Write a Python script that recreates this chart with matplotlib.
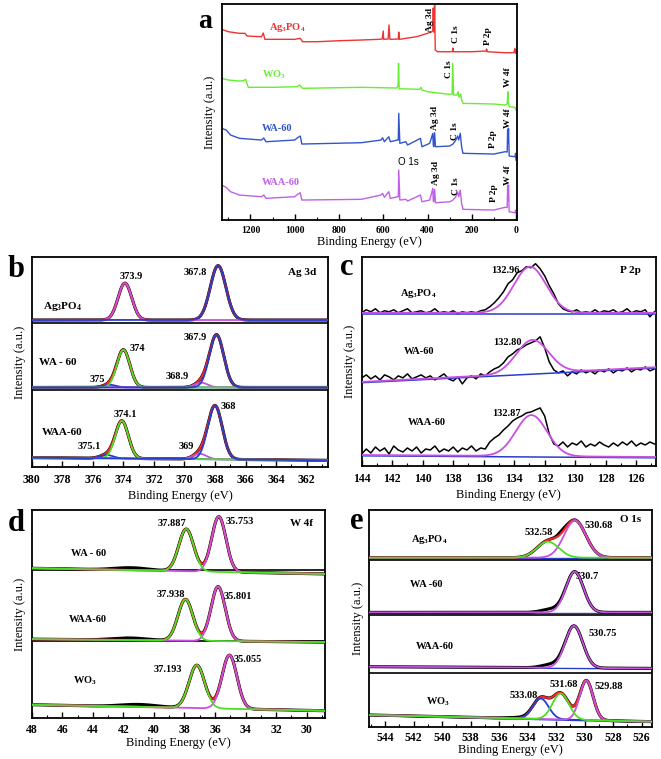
import numpy as np
import matplotlib.pyplot as plt
from matplotlib.ticker import MultipleLocator

plt.rcParams['font.family'] = 'Liberation Serif'
plt.rcParams['font.weight'] = 'bold'
plt.rcParams['mathtext.fontset'] = 'custom'
plt.rcParams['mathtext.rm'] = 'Liberation Serif:bold'
plt.rcParams['mathtext.bf'] = 'Liberation Serif:bold'
plt.rcParams['mathtext.it'] = 'Liberation Serif:bold:italic'

AGPO = r'Ag$_\mathrm{3}$PO$_\mathrm{4}$'
WO3 = r'WO$_\mathrm{3}$'

# ---------------- (a) survey spectra: (binding energy, intensity)
a_ag_e = [1330, 1300, 1250, 1225, 1215, 1150, 1142, 1135, 1100, 1000, 975, 965, 900, 800, 700, 620,
          605, 600, 598, 578, 574, 570, 532, 530, 527, 450, 400, 380, 376, 374, 372, 370, 368, 366, 365,
          355, 300, 287, 285, 283, 200, 135, 133, 130, 50, 10, 5, 2, 0]
a_ag_i = [190.7, 188.3, 186.7, 186.7, 184, 183.3, 187, 180.7, 180.7, 180.7, 181.7, 178.3, 178.3, 179.3,
          180, 180.7, 181, 189, 180.7, 181, 195, 180.7, 181, 188, 180.7, 183.3, 186.7, 188.3, 190, 212,
          188, 188, 215, 185, 170, 168.3, 168.3, 168.5, 172, 168.3, 168.3, 169, 171, 168.3, 167.3, 167.3,
          171.7, 166.7, 170]

a_wo_e = [1330, 1300, 1250, 1232, 1222, 1210, 1100, 990, 978, 965, 700, 540, 533, 531, 528, 435, 430,
          425, 400, 300, 289, 286, 282, 268, 262, 257, 250, 246, 240, 100, 50, 40, 37, 36, 34, 30, 5, 0]
a_wo_i = [141.7, 140, 139, 139.3, 140.7, 132.7, 132.7, 133.3, 135, 131.7, 132.7, 132, 134, 156.7, 131.3,
          130.7, 132.7, 130, 128.3, 125.7, 126, 156.7, 125, 125, 128.3, 122.7, 126, 120, 116.7, 116, 115,
          116, 128.3, 120, 116, 113.3, 112.7, 110]

a_wa_e = [1330, 1310, 1290, 1250, 1150, 1140, 1130, 1000, 985, 975, 968, 700, 610, 603, 595, 575, 568,
          535, 532, 530, 525, 498, 490, 432, 425, 390, 376, 374, 372, 368, 364, 300, 285, 272, 264, 259,
          252, 246, 240, 100, 50, 40, 38, 36, 34, 31, 5, 2, 0]
a_wa_i = [91.7, 90, 85, 81.7, 80, 82, 78.3, 80, 82.7, 84, 76, 77.3, 80, 82.3, 78.3, 83.3, 78.3, 80, 80,
          106.7, 76.7, 78.3, 75, 81.7, 73.3, 76.7, 86.7, 75, 73.3, 87.3, 73.3, 74, 76, 80, 84, 80, 86.7,
          73.3, 66.7, 66, 68.3, 68, 90.7, 76.7, 91.7, 64, 63.3, 66.7, 60]

a_waa_e = a_wa_e
a_waa_i = [35, 32.7, 28.3, 25, 23.3, 25, 21.7, 23.3, 26, 27.3, 20, 20.7, 25, 26.7, 22.7, 28.3, 21.7,
           23.3, 23.3, 50, 20, 20.7, 19, 25, 18.3, 20, 31.7, 19, 18.3, 30.7, 17.3, 18.3, 20, 23.3, 28.3,
           23.3, 30, 16.7, 10.7, 10, 12.7, 12.5, 35, 20, 35, 8.3, 7.3, 10, 6.7]

# ---------------- (b) Ag 3d fits: row baseline (left, right) and peaks (centre, height, fwhm)
b_names = [AGPO, 'WA - 60', 'WAA-60']
b_base = [(146.5, 146.5), (79.3, 79.3), (9.3, 6.7)]
b_centers = [[373.9, 367.8], [374.9, 368.9, 374.0, 367.9], [375.1, 369.0, 374.1, 368.0]]
b_heights = [[36.8, 54.2], [2.6, 4.7, 37.4, 52.4], [3.4, 5.4, 37.4, 53.4]]
b_fwhm = [[1.05, 1.2], [1.0, 1.0, 1.0, 1.1], [1.0, 1.0, 1.0, 1.1]]
b_labels = [['373.9', '367.8'], ['375', '368.9', '374', '367.9'], ['375.1', '369', '374.1', '368']]
b_lab_x = [[373.5, 369.3], [375.7, 370.5, 373.1, 369.3], [376.2, 369.9, 373.85, 367.1]]
b_lab_y = [[190, 194], [87, 90, 118, 129], [20, 20, 52.7, 60.7]]
b_name_pos = [(378.0, 160), (378.3, 104), (378.0, 34)]

# ---------------- (c) P 2p raw spectra (read every 0.3 eV from 144 to 124.8 eV) and fits
c_names = [AGPO, 'WA-60', 'WAA-60']
c_raw = [
    [153, 156, 154, 157, 153, 155, 154, 156, 153, 155, 157, 153, 154, 155, 153, 154, 157, 153, 154, 153,
     155, 152, 154, 153, 154, 153, 155, 156, 159, 163, 168, 174, 182, 186, 193, 195, 199, 198, 202, 197,
     190, 180, 172, 162, 157, 155, 154, 156, 153, 154, 153, 156, 153, 155, 154, 156, 153, 154, 157, 153,
     155, 154, 156, 149, 154],
    [88, 91, 87, 90, 86, 91, 89, 86, 90, 88, 92, 87, 89, 91, 88, 90, 86, 89, 92, 87,
     85, 89, 82, 88, 90, 87, 92, 90, 94, 97, 99, 103, 109, 112, 116, 118, 121, 123, 125, 129,
     118, 104, 96, 93, 95, 90, 94, 92, 96, 93, 95, 92, 96, 94, 97, 93, 96, 95, 98, 94,
     97, 96, 99, 95, 97],
    [12, 17, 13, 19, 15, 18, 12, 20, 16, 14, 18, 15, 19, 13, 17, 16, 20, 14, 17, 15,
     19, 14, 18, 16, 20, 15, 18, 17, 24, 28, 31, 36, 40, 45, 48, 50, 53, 54, 56, 58,
     50, 32, 22, 20, 24, 19, 23, 21, 25, 19, 22, 20, 24, 21, 19, 23, 20, 24, 21, 25,
     20, 23, 21, 24, 22],
]
c_base = [(153, 153), (84, 98.7), (11, 9)]
c_centers = [132.96, 132.80, 132.87]
c_heights = [46, 33.4, 41]
c_fwhm = [2.5, 2.5, 2.4]
c_lab_pos = [(134.55, 195.3), (134.46, 123.3), (134.5, 52.7)]
c_name_pos = [(140.3, 172.7), (140.25, 114.3), (139.7, 43.3)]

# ---------------- (d) W 4f fits
d_names = ['WA - 60', 'WAA-60', WO3]
d_base = [(150, 144.3), (79, 76), (13.3, 7.3)]
d_centers = [[35.753, 37.887], [35.801, 37.938], [35.055, 37.193]]
d_heights = [[55.3, 42.3], [54.5, 41.5], [53.7, 43]]
d_fwhm = [[1.1, 1.15], [1.1, 1.15], [1.15, 1.2]]
d_hump = [(41.5, 2.5, 2.6), (41.6, 2.2, 2.6), (41.0, 2.5, 2.8)]
d_lab_x = [[34.4, 38.84], [34.5, 38.86], [33.85, 39.08]]
d_lab_y = [[196.7, 195], [121.7, 124], [58.3, 48.3]]
d_name_pos = [(44.3, 165), (44.3, 98.3), (44.5, 37.3)]

# ---------------- (e) O 1s fits
e_names = [AGPO, 'WA -60', 'WAA-60', WO3]
e_base = [(169, 169), (114.3, 114.3), (60, 58.3), (11.7, 5)]
e_centers = [[530.68, 532.58], [530.7], [530.75], [533.08, 529.88, 531.68]]
e_heights = [[37, 16], [40.7], [42], [20.5, 39.5, 26]]
e_fwhm = [[1.8, 1.8], [1.45], [1.45], [1.3, 1.1, 1.35]]
e_shoulder = [(531.6, 2.5, 0.7), (532.4, 3.0, 1.5), (532.4, 3.0, 1.5), (534.5, 1.0, 2.0)]
e_labels = [['530.68', '532.58'], ['530.7'], ['530.75'], ['533.08', '529.88', '531.68']]
e_lab_x = [[529.0, 533.25], [529.8], [528.7], [534.3, 528.3, 531.45]]
e_lab_y = [[201, 194.3], [150], [93.3], [31, 40, 41.7]]
e_name_pos = [(540.9, 186.7), (541.1, 141.7), (540.5, 80), (540.3, 25)]

RED = '#f02828'
GREEN = '#4ddd22'
BLUE = '#2a3ccc'
VIOLET = '#c850e0'

LAB = 7.5   # peak / sample annotation size


def gauss(x, c, h, w):
    return h * np.exp(-4 * np.log(2) * (x - c) ** 2 / w ** 2)


def baseline(x, lims, base):
    t = (lims[0] - x) / (lims[0] - lims[1])
    return base[0] + (base[1] - base[0]) * t


def frame(ax, lims, ymax, major, minor, lsize=8.5, pad=5, lpad=3):
    ax.set_xlim(lims)
    ax.set_ylim(0, ymax)
    ax.set_yticks([])
    ax.xaxis.set_major_locator(MultipleLocator(major))
    ax.xaxis.set_minor_locator(MultipleLocator(minor))
    ax.tick_params(axis='x', which='major', direction='in', length=4, width=1, labelsize=lsize, pad=pad)
    ax.tick_params(axis='x', which='minor', direction='in', length=2, width=0.8)
    for s in ax.spines.values():
        s.set_linewidth(1.3)
    ax.set_xlabel('Binding Energy (eV)', fontsize=9, labelpad=lpad)
    ax.set_ylabel('Intensity (a.u.)', fontsize=9, labelpad=4)


def fit_row(ax, x, lims, base, centers, heights, widths, colors, extra=None):
    b = baseline(x, lims, base)
    comps = [gauss(x, c, h, w) for c, h, w in zip(centers, heights, widths)]
    env = b + np.sum(comps, axis=0)
    raw = env.copy()
    if extra is not None:
        raw = raw + gauss(x, *extra)
    ax.plot(x, raw, color='black', lw=2.2, zorder=2)
    if len(comps) > 1:
        ax.plot(x, env, color=RED, lw=1.6, zorder=3)
    for comp, col in zip(comps, colors):
        ax.plot(x, b + comp, color=col, lw=1.3, zorder=4)


fig = plt.figure(figsize=(6.61, 7.59), dpi=100)

# ---- panel a
ax = fig.add_axes([0.3354, 0.7101, 0.4463, 0.2846])
frame(ax, (1330, -3), 216, 200, 100, lsize=7, pad=4, lpad=1)
ax.plot(a_ag_e, a_ag_i, color='#ee3333', lw=1.0)
ax.plot(a_wo_e, a_wo_i, color='#66ee33', lw=1.0)
ax.plot(a_wa_e, a_wa_i, color='#3355cc', lw=1.0)
ax.plot(a_waa_e, a_waa_i, color='#c060e8', lw=1.0)
fs = 7.5
ax.text(1035, 193, AGPO, color='#ee3333', fontsize=fs, ha='center', va='center')
ax.text(1095, 145, WO3, color='#66ee33', fontsize=fs, ha='center', va='center')
ax.text(1080, 92, 'WA-60', color='#3355cc', fontsize=fs, ha='center', va='center')
ax.text(1062, 38, 'WAA-60', color='#c060e8', fontsize=fs, ha='center', va='center')
a_marks = [('Ag 3d', 390, 188), ('C 1s', 270, 176.7), ('P 2p', 127.5, 175),
           ('C 1s', 303, 141.7), ('W 4f', 37.5, 133.3),
           ('Ag 3d', 367.5, 90), ('C 1s', 277.5, 80), ('P 2p', 105, 71.7), ('W 4f', 37.5, 91.7),
           ('Ag 3d', 363, 35), ('C 1s', 273, 25), ('P 2p', 97.5, 18.3), ('W 4f', 37.5, 35)]
for t, xe, yh in a_marks:
    ax.text(xe, yh, t, rotation=90, fontsize=6.8, ha='center', va='bottom')
ax.text(484.5, 58.3, 'O 1s', fontsize=7, family='Liberation Sans', weight='normal',
        ha='center', va='center')
fig.text(0.31, 0.972, 'a', fontsize=20, ha='center', va='center')

# ---- panel b
lims = (380, 360.6)
ax = fig.add_axes([0.048, 0.3847, 0.4483, 0.2767])
frame(ax, lims, 209.3, 2, 1)
x = np.linspace(lims[0], lims[1], 800)
b_colors = [[VIOLET, BLUE], [BLUE, VIOLET, GREEN, BLUE], [BLUE, VIOLET, GREEN, BLUE]]
for i in range(3):
    fit_row(ax, x, lims, b_base[i], b_centers[i], b_heights[i], b_fwhm[i], b_colors[i])
    for t, xe, yh in zip(b_labels[i], b_lab_x[i], b_lab_y[i]):
        ax.text(xe, yh, t, fontsize=LAB, ha='center', va='center')
    ax.text(*b_name_pos[i], b_names[i], fontsize=8, ha='center', va='center')
for yh in (144, 76.7):
    ax.axhline(yh, color='black', lw=1.2)
ax.text(362.3, 194, 'Ag 3d', fontsize=8, ha='center', va='center')
fig.text(0.025, 0.645, 'b', fontsize=22, ha='center', va='center')

# ---- panel c
lims = (144, 124.7)
ax = fig.add_axes([0.5472, 0.386, 0.4452, 0.2754])
frame(ax, lims, 208.7, 2, 1)
x = np.linspace(lims[0], lims[1], 800)
for i in range(3):
    xr = np.linspace(144, 124.8, len(c_raw[i]))
    ax.plot(xr, c_raw[i], color='black', lw=1.1, zorder=2)
    b = baseline(x, lims, c_base[i])
    ax.plot(x, b - 0.8, color=BLUE, lw=1.1, zorder=3)
    ax.plot(x, b + gauss(x, c_centers[i], c_heights[i], c_fwhm[i]), color=VIOLET, lw=1.3, zorder=4)
    ax.text(*c_lab_pos[i], '%.2f' % c_centers[i], fontsize=LAB, ha='center', va='center')
    ax.text(*c_name_pos[i], c_names[i], fontsize=LAB, ha='center', va='center')
ax.text(126.4, 195.3, 'P 2p', fontsize=8, ha='center', va='center')
fig.text(0.525, 0.648, 'c', fontsize=22, ha='center', va='center')

# ---- panel d
lims = (48, 28.8)
ax = fig.add_axes([0.048, 0.054, 0.4437, 0.274])
frame(ax, lims, 208.3, 2, 1, pad=4, lpad=1)
x = np.linspace(lims[0], lims[1], 800)
for i in range(3):
    fit_row(ax, x, lims, d_base[i], d_centers[i], d_heights[i], d_fwhm[i], [VIOLET, GREEN],
            extra=d_hump[i])
    for c, xe, yh in zip(d_centers[i], d_lab_x[i], d_lab_y[i]):
        ax.text(xe, yh, '%.3f' % c, fontsize=LAB, ha='center', va='center')
    ax.text(*d_name_pos[i], d_names[i], fontsize=LAB, ha='center', va='center')
for yh in (148.3, 76.7):
    ax.axhline(yh, color='black', lw=1.2)
ax.text(30.37, 195, 'W 4f', fontsize=8, ha='center', va='center')
fig.text(0.025, 0.31, 'd', fontsize=22, ha='center', va='center')

# ---- panel e
lims = (545.1, 525.3)
ax = fig.add_axes([0.5587, 0.0426, 0.4272, 0.2855])
frame(ax, lims, 216.7, 2, 1, pad=4, lpad=0)
x = np.linspace(lims[0], lims[1], 800)
e_colors = [[VIOLET, GREEN], [VIOLET], [VIOLET], [BLUE, VIOLET, GREEN]]
for i in range(4):
    b = baseline(x, lims, e_base[i])
    ax.plot(x, b - 0.6, color=BLUE, lw=1.0, zorder=1)
    fit_row(ax, x, lims, e_base[i], e_centers[i], e_heights[i], e_fwhm[i], e_colors[i],
            extra=e_shoulder[i])
    for t, xe, yh in zip(e_labels[i], e_lab_x[i], e_lab_y[i]):
        ax.text(xe, yh, t, fontsize=LAB, ha='center', va='center')
    ax.text(*e_name_pos[i], e_names[i], fontsize=LAB, ha='center', va='center')
for yh in (166.7, 111.7, 53.3):
    ax.axhline(yh, color='black', lw=1.2)
ax.text(526.8, 206.7, 'O 1s', fontsize=8, ha='center', va='center')
fig.text(0.54, 0.313, 'e', fontsize=22, ha='center', va='center')

fig.savefig('out.png', dpi=100)
